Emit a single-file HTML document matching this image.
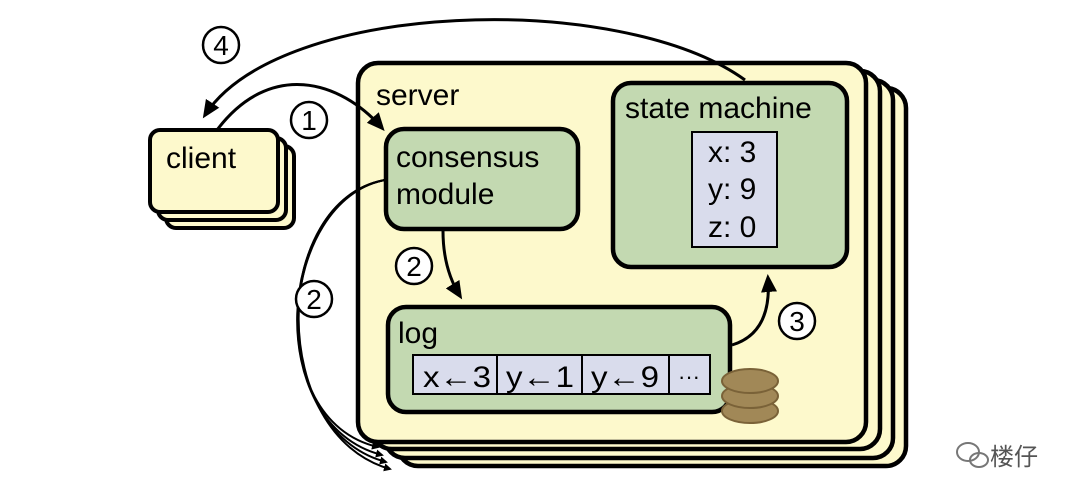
<!DOCTYPE html>
<html><head><meta charset="utf-8"><style>
html,body{margin:0;padding:0;background:#fff;width:1080px;height:502px;overflow:hidden}
text{font-family:"Liberation Sans",sans-serif;fill:#000}
</style></head><body>
<svg width="1080" height="502" viewBox="0 0 1080 502" xmlns="http://www.w3.org/2000/svg">
<defs>
<marker id="ah" markerWidth="8" markerHeight="8" refX="6" refY="4" orient="auto" markerUnits="userSpaceOnUse" viewBox="0 0 8 8"><path d="M0,0 L8,4 L0,8 z" fill="#000"/></marker>
<marker id="ab" markerWidth="18" markerHeight="16" refX="14" refY="8" orient="auto" markerUnits="userSpaceOnUse" viewBox="0 0 18 16"><path d="M0,0 L18,8 L0,16 z" fill="#000"/></marker>
</defs>
<g stroke="#000" stroke-width="4.5" fill="#fdf9cc">
<rect x="398" y="88" width="508" height="378" rx="20"/>
<rect x="385" y="80" width="508" height="378" rx="20"/>
<rect x="372" y="71" width="508" height="378" rx="20"/>
<rect x="358" y="63" width="508" height="379" rx="20"/>
</g>
<text x="376" y="105" font-size="30">server</text>
<g stroke="#000" stroke-width="4" fill="#fdf9cc">
<rect x="166" y="146" width="128" height="82" rx="10"/>
<rect x="158" y="138" width="128" height="82" rx="10"/>
<rect x="150" y="130" width="128" height="82" rx="10"/>
</g>
<text x="166" y="168" font-size="30">client</text>
<rect x="386" y="129" width="192" height="100" rx="18" fill="#c3d9b1" stroke="#000" stroke-width="4.5"/>
<text x="396" y="167" font-size="30">consensus</text>
<text x="396" y="204" font-size="30">module</text>
<rect x="613" y="83" width="234" height="184" rx="18" fill="#c3d9b1" stroke="#000" stroke-width="4.5"/>
<text x="625" y="118" font-size="30">state machine</text>
<rect x="692" y="132" width="85" height="115" fill="#d9dcec" stroke="#000" stroke-width="2"/>
<text x="708" y="162" font-size="30">x: 3</text>
<text x="708" y="199" font-size="30">y: 9</text>
<text x="708" y="237" font-size="30">z: 0</text>
<rect x="388" y="307" width="342" height="105" rx="18" fill="#c3d9b1" stroke="#000" stroke-width="4.5"/>
<text x="398" y="343" font-size="30">log</text>
<g fill="#d9dcec" stroke="#000" stroke-width="2">
<rect x="413" y="355" width="84" height="39"/>
<rect x="497" y="355" width="85" height="39"/>
<rect x="582" y="355" width="87" height="39"/>
<rect x="669" y="355" width="41" height="39"/>
</g>
<text x="423" y="387" font-size="30" textLength="68" lengthAdjust="spacingAndGlyphs">x←3</text>
<text x="506" y="387" font-size="30" textLength="68" lengthAdjust="spacingAndGlyphs">y←1</text>
<text x="591" y="387" font-size="30" textLength="68" lengthAdjust="spacingAndGlyphs">y←9</text>
<text x="678" y="384" font-size="22">···</text>
<g fill="#a18857" stroke="#7a6238" stroke-width="2">
<ellipse cx="750" cy="411" rx="28" ry="12"/>
<ellipse cx="750" cy="396" rx="28" ry="12"/>
<ellipse cx="750" cy="381" rx="28" ry="12"/>
</g>
<g fill="none" stroke="#000" stroke-width="3">
<path d="M745 80 C620 -10 280 0 205 115" marker-end="url(#ab)"/>
<path d="M217 130 C270 60 340 80 382 128" marker-end="url(#ab)"/>
<path d="M443 231 C443 260 450 280 460 296" marker-end="url(#ab)"/>
<path d="M732 345 C765 335 770 305 768 278" marker-end="url(#ab)"/>
</g>
<g fill="none" stroke="#000" stroke-width="2">
<path d="M385 180 C280 200 260 420 378 447" marker-end="url(#ah)"/>
<path d="M385 180 C275 200 262 425 382 455" marker-end="url(#ah)"/>
<path d="M385 180 C272 200 265 430 386 462" marker-end="url(#ah)"/>
<path d="M385 180 C270 200 268 435 390 469" marker-end="url(#ah)"/>
</g>
<g fill="#fff" stroke="#000" stroke-width="2.5">
<circle cx="221" cy="45" r="18"/>
<circle cx="309" cy="120" r="18"/>
<circle cx="414" cy="266" r="18"/>
<circle cx="314" cy="299" r="18"/>
<circle cx="797" cy="321" r="18"/>
</g>
<g font-size="28" text-anchor="middle">
<text x="221" y="55">4</text>
<text x="309" y="130">1</text>
<text x="414" y="276">2</text>
<text x="314" y="309">2</text>
<text x="797" y="331">3</text>
</g>
<g fill="none" stroke="#777" stroke-width="2">
<ellipse cx="968" cy="452" rx="11" ry="9"/>
<ellipse cx="979" cy="460" rx="9" ry="7"/>
</g>
<text x="990" y="465" font-size="24" style="font-family:'Liberation Sans','Noto Sans CJK SC',sans-serif;fill:#555">楼仔</text>
</svg>
</body></html>
